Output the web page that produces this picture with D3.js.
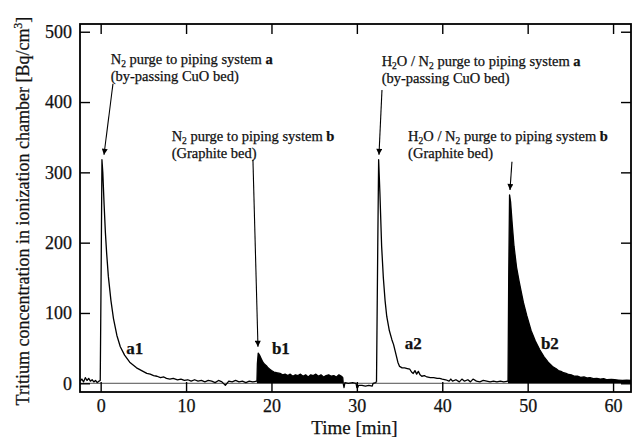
<!DOCTYPE html>
<html><head><meta charset="utf-8">
<script src="https://cdn.jsdelivr.net/npm/d3@7/dist/d3.min.js"></script>
<style>
html,body{margin:0;padding:0;background:#fff;}
svg{display:block;}
text{font-family:"Liberation Serif","Times New Roman",serif;fill:#111;stroke:#111;stroke-width:0.25px;}
</style></head><body>
<svg id="chart" width="632" height="437"></svg>
<script>
// ---- data (time [min], concentration [Bq/cm3]) ----
const xTicks = [0, 10, 20, 30, 40, 50, 60];
const yTicks = [0, 100, 200, 300, 400, 500];

const runA1 = [[-2.4,3],[-2.2,6],[-2.0,2],[-1.8,8],[-1.6,4],[-1.4,7],[-1.2,3],[-1.0,5],[-0.8,2],[-0.6,4],[-0.4,1],[-0.2,3],[-0.05,4],
 [0.05,150],[0.15,318],[0.25,300],[0.4,255],[0.55,215],[0.7,185],[0.9,152],[1.2,118],[1.5,92],[1.9,68],[2.3,52],[2.8,40],[3.4,30],[3.8,26],[4.2,22],[4.8,18],[5.4,14],[5.8,13],[6.2,11],[6.6,10],[7.0,8],[7.4,9],[7.7,7],[8.1,6],[8.5,7],[9,5],[9.4,6],[9.8,4],[10.2,5],[10.6,3],[11,5],[11.4,3],[11.8,4],[12.2,2],[12.6,4],[13,3],[13.4,1],[13.8,4],[14.2,2],[14.6,-3],[15,3],[15.4,2],[15.8,4],[16.2,2],[16.6,3],[17,1],[17.4,3],[17.8,2],[18.3,3]];

const runB1 = [[18.3,3],[18.35,28],[18.45,43],[18.6,40],[18.8,35],[19.0,30],[19.2,27],[19.4,25],[19.6,22],[19.8,20],[20.0,18],[20.3,16],[20.6,15],[21,14],[21.3,12],[21.6,13],[21.9,11],[22.2,13],[22.5,10],[22.8,12],[23.1,11],[23.4,13],[23.7,10],[24,12],[24.3,9],[24.6,12],[24.9,11],[25.2,13],[25.5,10],[25.8,12],[26.1,9],[26.4,11],[26.7,12],[27,10],[27.3,11],[27.6,9],[27.9,12],[28.2,10],[28.35,8],[28.4,0]];

const runGap = [[28.4,0],[28.5,-6],[28.6,1],[29,0],[29.5,1],[29.9,0],[30,-6],[30.1,-6],[30.2,-3],[30.6,-3],[31,-4],[31.4,-3],[31.8,-4],[31.9,0],[32.2,1],[32.3,2]];

const runA2 = [[32.3,2],[32.45,200],[32.55,318],[32.7,270],[32.9,195],[33.1,150],[33.3,118],[33.5,95],[33.8,75],[34.1,62],[34.3,55],[34.6,40],[34.8,30],[35.0,24],[35.3,22],[35.6,22],[35.9,21],[36.2,20],[36.4,16],[36.6,14],[36.8,18],[37.0,13],[37.2,17],[37.4,12],[37.6,10],[37.9,11],[38.2,9],[38.6,8],[39,8],[39.4,7],[39.7,7],[40,6],[40.4,5],[40.8,3],[41.0,6],[41.2,3],[41.6,5],[42,2],[42.3,6],[42.6,3],[43,5],[43.3,2],[43.6,6],[44,3],[44.4,2],[44.8,4],[45.2,3],[45.6,2],[46,3],[46.4,2],[46.8,3],[47.2,2],[47.7,3]];

const runB2 = [[47.7,3],[47.78,150],[47.88,268],[48.0,258],[48.2,225],[48.4,195],[48.7,165],[49.0,145],[49.2,133],[49.5,115],[49.9,96],[50.4,75],[50.9,60],[51.4,48],[51.9,38],[52.4,30],[53,23],[53.3,21],[53.6,18],[53.9,17],[54.2,15],[54.5,14],[54.8,12.5],[55.1,12],[55.5,10],[55.9,10],[56.2,8.5],[56.6,9],[57,7.5],[57.3,8],[57.7,6.5],[58.1,7],[58.5,6],[58.9,6.5],[59.3,5],[59.8,5.5],[60.2,5],[60.6,4.5],[61.1,4],[61.6,4.5],[62.1,4]];

const runLabels = [{t:4.0,v:50,txt:"a1"},{t:21.1,v:50,txt:"b1"},{t:36.6,v:57,txt:"a2"},{t:52.6,v:57,txt:"b2"}];

// annotation arrows: from (t,v) to (t,v)
const arrows = [
  {t0:1.44,v0:426,t1:0.39,v1:325},
  {t0:17.83,v0:318,t1:18.42,v1:52},
  {t0:32.94,v0:417,t1:32.59,v1:325},
  {t0:48.16,v0:315,t1:47.93,v1:275}
];
const notes = [
  {t:1.17,v:460,pre:"N",sub:"2",rest:" purge to piping system ",tail:"a",line2:"(by-passing CuO bed)"},
  {t:8.31,v:350,pre:"N",sub:"2",rest:" purge to piping system ",tail:"b",line2:"(Graphite bed)"},
  {t:32.9,v:457,pre:"H",sub:"2",rest:"O / N",sub2:"2",rest2:" purge to piping system ",tail:"a",line2:"(by-passing CuO bed)"},
  {t:36.0,v:350,pre:"H",sub:"2",rest:"O / N",sub2:"2",rest2:" purge to piping system ",tail:"b",line2:"(Graphite bed)"}
];

// ---- layout ----
const L = 80, R = 631, T = 24, B = 392;
const x = d3.scaleLinear().domain([-2.42, 62.1]).range([L, R]);
const y = d3.scaleLinear().domain([-12.4, 511]).range([B, T]);

const svg = d3.select("#chart");

// zero baseline
svg.append("line").attr("x1",L).attr("x2",R).attr("y1",y(0)).attr("y2",y(0))
  .attr("stroke","#222").attr("stroke-width",0.8);

const line = d3.line().x(d=>x(d[0])).y(d=>y(d[1]));
const area = d3.area().x(d=>x(d[0])).y0(y(0)).y1(d=>y(d[1]));

[runB1, runB2].forEach(r=>{
  svg.append("path").attr("d",area(r)).attr("fill","#000");
});
[runA1, runB1, runGap, runA2, runB2].forEach(r=>{
  svg.append("path").attr("d",line(r)).attr("fill","none").attr("stroke","#000")
    .attr("stroke-width",1.3).attr("stroke-linejoin","round");
});

// axes (inward ticks)
const gB = svg.append("g").attr("transform",`translate(0,${B})`)
  .call(d3.axisBottom(x).tickValues(xTicks).tickSizeInner(-10).tickSizeOuter(0).tickPadding(7));
const gT = svg.append("g").attr("transform",`translate(0,${T})`)
  .call(d3.axisTop(x).tickValues(xTicks).tickSizeInner(-10).tickSizeOuter(0).tickFormat(""));
const gL = svg.append("g").attr("transform",`translate(${L},0)`)
  .call(d3.axisLeft(y).tickValues(yTicks).tickSizeInner(-10).tickSizeOuter(0).tickPadding(8));
const gR = svg.append("g").attr("transform",`translate(${R},0)`)
  .call(d3.axisRight(y).tickValues(yTicks).tickSizeInner(-10).tickSizeOuter(0).tickFormat(""));
[gB,gT,gL,gR].forEach(g=>{
  g.select(".domain").remove();
  g.selectAll(".tick line").attr("stroke","#000").attr("stroke-width",1.4);
  g.selectAll("text").attr("font-family","Liberation Serif, serif").attr("font-size",18).attr("fill","#111");
});

// frame
svg.append("rect").attr("x",L).attr("y",T).attr("width",R-L).attr("height",B-T)
  .attr("fill","none").attr("stroke","#000").attr("stroke-width",1.8);

// axis titles
svg.append("text").attr("x",(L+R)/2 - 1).attr("y",434).attr("text-anchor","middle")
  .attr("font-size",19).text("Time [min]");
const yt = svg.append("text").attr("transform","translate(29,211) rotate(-90)")
  .attr("text-anchor","middle").attr("font-size",18);
yt.append("tspan").text("Tritium concentration in ionization chamber [Bq/cm");
yt.append("tspan").attr("dy",-7).attr("font-size",12).text("3");
yt.append("tspan").attr("dy",7).text("]");

// arrows
svg.append("defs").append("marker").attr("id","ah").attr("markerUnits","userSpaceOnUse")
  .attr("viewBox","0 0 10 10").attr("refX",10).attr("refY",5)
  .attr("markerWidth",9).attr("markerHeight",6).attr("orient","auto")
  .append("path").attr("d","M0,0 L10,5 L0,10 Z").attr("fill","#000");
arrows.forEach(a=>{
  svg.append("line").attr("x1",x(a.t0)).attr("y1",y(a.v0)).attr("x2",x(a.t1)).attr("y2",y(a.v1))
    .attr("stroke","#000").attr("stroke-width",1.1).attr("marker-end","url(#ah)");
});

// notes
notes.forEach(n=>{
  const t1 = svg.append("text").attr("x",x(n.t)).attr("y",y(n.v)+4).attr("font-size",14.5);
  t1.append("tspan").text(n.pre);
  t1.append("tspan").attr("dy",3).attr("font-size",9.5).text(n.sub);
  t1.append("tspan").attr("dy",-3).text(n.rest);
  if(n.sub2){
    t1.append("tspan").attr("dy",3).attr("font-size",9.5).text(n.sub2);
    t1.append("tspan").attr("dy",-3).text(n.rest2);
  }
  t1.append("tspan").attr("font-weight","bold").text(n.tail);
  svg.append("text").attr("x",x(n.t)).attr("y",y(n.v)+21).attr("font-size",14.5).text(n.line2);
});

// run labels
runLabels.forEach(l=>{
  svg.append("text").attr("x",x(l.t)).attr("y",y(l.v)+6).attr("text-anchor","middle")
    .attr("font-size",17).attr("font-weight","bold").text(l.txt);
});
</script>
</body></html>
